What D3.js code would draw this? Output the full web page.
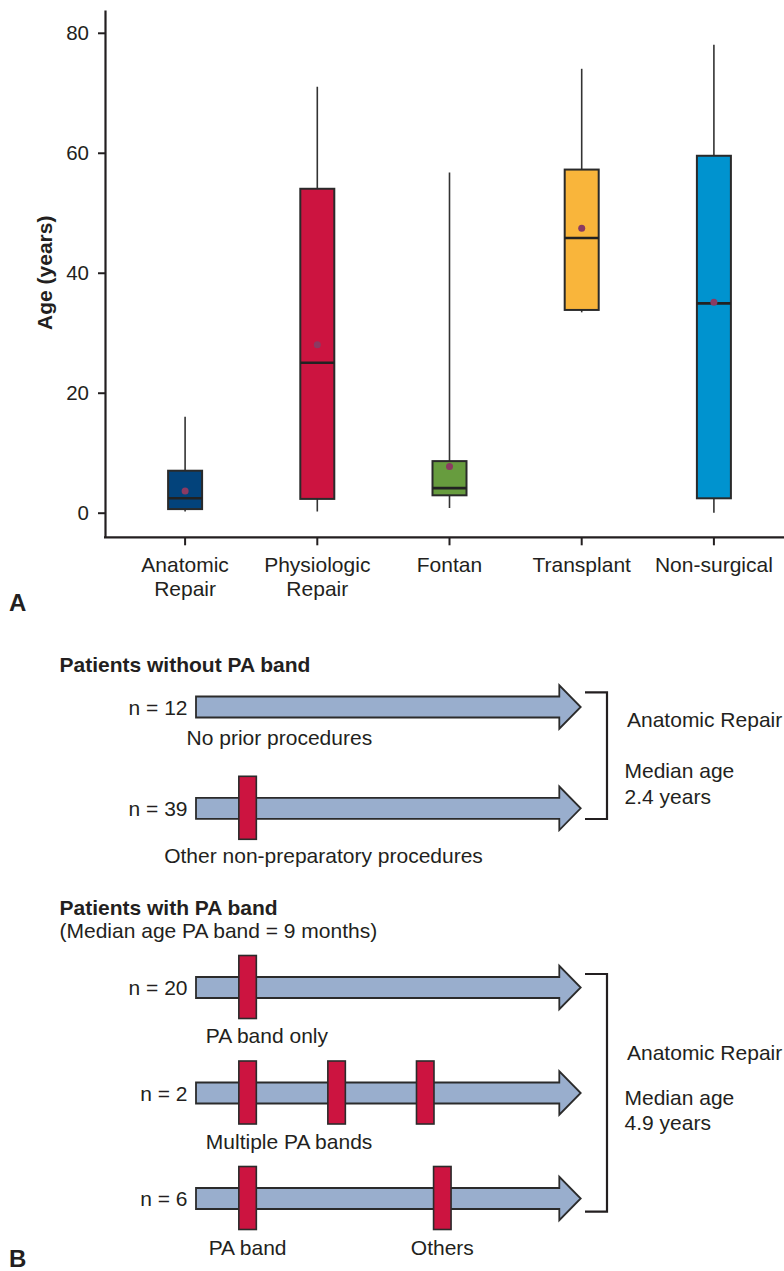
<!DOCTYPE html>
<html>
<head>
	<title>Age at repair</title>
	<script src="https://d3js.org/d3.v7.min.js"></script>
	<style type="text/css">
		body { margin:0; background:#fff; }
		svg text { font-family:"Liberation Sans", Arial, Helvetica, sans-serif; fill:#231f20; }
	</style>
</head>
<body>
	<script type="text/javascript">

		// ---- panel A data (age in years) ----
		var categories   = ["Anatomic Repair", "Physiologic Repair", "Fontan", "Transplant", "Non-surgical"];
		var catLines     = [["Anatomic", "Repair"], ["Physiologic", "Repair"], ["Fontan"], ["Transplant"], ["Non-surgical"]];
		var whiskerLow   = [0.2, 0.2, 0.8, 33.4, 0];
		var q1           = [0.6, 2.3, 2.9, 33.8, 2.4];
		var median       = [2.4, 25, 4.1, 45.8, 34.9];
		var q3           = [7.0, 54, 8.6, 57.2, 59.5];
		var whiskerHigh  = [16, 71, 56.7, 74, 78];
		var means        = [3.6, 28, 7.7, 47.4, 35.1];
		var boxColors    = ["#03437b", "#cc1440", "#679c3e", "#f9b53b", "#0093cf"];
		var yTicks       = [0, 20, 40, 60, 80];

		// ---- panel B data ----
		var groupTitles  = ["Patients without PA band", "Patients with PA band"];
		var groupNotes   = ["", "(Median age PA band = 9 months)"];
		var groupOutcome = ["Anatomic Repair", "Anatomic Repair"];
		var groupAge     = ["2.4 years", "4.9 years"];
		var rowGroup     = [0, 0, 1, 1, 1];
		var rowN         = [12, 39, 20, 2, 6];
		var rowBands     = [[], [14.2], [14.2], [14.2, 38.7, 63.1], [14.2, 67.8]];   // position on the timeline, 0-100
		var rowLabels    = [["No prior procedures"], ["Other non-preparatory procedures"], ["PA band only"], ["Multiple PA bands"], ["PA band", "Others"]];

		var W = 784, H = 1271;
		var ink = "#231f20";

		var svg = d3.select("body").append("svg")
			.attr("width", W)
			.attr("height", H);

		/* ================= panel A : box plot ================= */

		var y = d3.scaleLinear().domain([-4.1, 83.8]).range([537.3, 10]);
		var x = d3.scaleBand().domain(categories).range([119, 780]).padding(0);
		var boxW = 34;

		var data = categories.map(function(c, i){
			return {cat:c, lo:whiskerLow[i], q1:q1[i], med:median[i], q3:q3[i], hi:whiskerHigh[i], mean:means[i], color:boxColors[i], lines:catLines[i]};
		});

		// y axis
		var yAxis = svg.append("g")
			.attr("transform", "translate(105,0)")
			.call(d3.axisLeft(y).tickValues(yTicks).tickSize(7).tickPadding(9).tickSizeOuter(0));
		yAxis.select(".domain").attr("stroke", ink).attr("stroke-width", 2.2);
		yAxis.selectAll(".tick line").attr("stroke", ink).attr("stroke-width", 2);
		yAxis.selectAll(".tick text").attr("font-size", 20.5).attr("font-family", null).style("fill", ink);

		// x axis (line drawn full width, ticks from the band scale)
		var xAxis = svg.append("g")
			.attr("transform", "translate(0,537.3)")
			.call(d3.axisBottom(x).tickSize(8).tickFormat(""));
		xAxis.select(".domain").remove();
		xAxis.selectAll(".tick line").attr("stroke", ink).attr("stroke-width", 2);
		svg.append("line")
			.attr("x1", 104).attr("x2", W)
			.attr("y1", 537.3).attr("y2", 537.3)
			.attr("stroke", ink).attr("stroke-width", 2.2);

		// category labels
		svg.selectAll("text.cat")
			.data(data)
			.enter()
			.append("text")
				.attr("class", "cat")
				.attr("x", function(d){ return x(d.cat) + x.bandwidth()/2; })
				.attr("y", 571.7)
				.attr("text-anchor", "middle")
				.attr("font-size", 21)
				.selectAll("tspan")
				.data(function(d){ return d.lines; })
				.enter()
				.append("tspan")
					.attr("x", function(){ var p = d3.select(this.parentNode).datum(); return x(p.cat) + x.bandwidth()/2; })
					.attr("dy", function(d, i){ return i ? 24 : 0; })
					.text(function(d){ return d; });

		// y title
		svg.append("text")
			.attr("transform", "translate(52," + y(40) + ") rotate(-90)")
			.attr("text-anchor", "middle")
			.attr("font-size", 21)
			.attr("font-weight", "bold")
			.text("Age (years)");

		var boxes = svg.selectAll("g.box")
			.data(data)
			.enter()
			.append("g")
				.attr("class", "box")
				.attr("transform", function(d){ return "translate(" + (x(d.cat) + x.bandwidth()/2) + ",0)"; });

		// whiskers
		boxes.append("line")
			.attr("x1", 0).attr("x2", 0)
			.attr("y1", function(d){ return y(d.hi); })
			.attr("y2", function(d){ return y(d.lo); })
			.attr("stroke", "#333").attr("stroke-width", 1.6);

		// box
		boxes.append("rect")
			.attr("x", -boxW/2)
			.attr("width", boxW)
			.attr("y", function(d){ return y(d.q3); })
			.attr("height", function(d){ return y(d.q1) - y(d.q3); })
			.attr("fill", function(d){ return d.color; })
			.attr("stroke", "#2a2a2a").attr("stroke-width", 2);

		// median
		boxes.append("line")
			.attr("x1", -boxW/2).attr("x2", boxW/2)
			.attr("y1", function(d){ return y(d.med); })
			.attr("y2", function(d){ return y(d.med); })
			.attr("stroke", "#222").attr("stroke-width", 2.6);

		// mean
		boxes.append("circle")
			.attr("cx", 0)
			.attr("cy", function(d){ return y(d.mean); })
			.attr("r", 3.5)
			.attr("fill", "#8b3a62");

		svg.append("text")
			.attr("x", 9).attr("y", 611)
			.attr("font-size", 24).attr("font-weight", "bold")
			.text("A");

		/* ================= panel B : timelines ================= */

		var t = d3.scaleLinear().domain([0, 100]).range([196, 559.3]);   // body of arrow
		var tipX = 580.7, bodyH = 21, headH = 43.5;
		var bandW = 17.5, bandTop = 32, bandH = 63;

		// row position inside each group
		var rowY = [
			d3.scaleLinear().domain([0, 1]).range([707, 808.3]),
			d3.scaleLinear().domain([0, 2]).range([987.5, 1198.5])
		];
		var groupStart = [0, 2];

		// group layout: title baselines and bracket span
		var groupLayout = [
			{title:671.7, note:null, top:692.3, bottom:819, outcome:727.3, med:778.3, age:804},
			{title:915, note:937.5, top:974, bottom:1211.7, outcome:1060, med:1105, age:1130}
		];

		var rows = rowN.map(function(n, i){
			var g = rowGroup[i];
			return {n:n, group:g, cy:rowY[g](i - groupStart[g]), bands:rowBands[i], labels:rowLabels[i], idx:i};
		});

		// text layout under each row: [timeline pos, anchor, baseline offset]
		var labelLayout = [
			[[-2.6, "start", 38]],
			[[35.1, "middle", 54.4]],
			[[2.7, "start", 55.2]],
			[[2.7, "start", 55.8]],
			[[14.2, "middle", 56.5], [67.8, "middle", 56.5]]
		];

		groupTitles.forEach(function(title, g){
			var L = groupLayout[g];
			svg.append("text")
				.attr("x", 59.5).attr("y", L.title)
				.attr("font-size", 21).attr("font-weight", "bold")
				.text(title);
			if(groupNotes[g]){
				svg.append("text")
					.attr("x", 59.5).attr("y", L.note)
					.attr("font-size", 21)
					.text(groupNotes[g]);
			}
			// bracket
			svg.append("path")
				.attr("d", "M585," + L.top + "H607V" + L.bottom + "H585")
				.attr("fill", "none").attr("stroke", ink).attr("stroke-width", 2.2);
			svg.append("text").attr("x", 627).attr("y", L.outcome).attr("font-size", 21).text(groupOutcome[g]);
			svg.append("text").attr("x", 624.5).attr("y", L.med).attr("font-size", 21).text("Median age");
			svg.append("text").attr("x", 624.5).attr("y", L.age).attr("font-size", 21).text(groupAge[g]);
		});

		var rowG = svg.selectAll("g.row")
			.data(rows)
			.enter()
			.append("g")
				.attr("class", "row");

		// arrow
		rowG.append("path")
			.attr("d", function(d){
				var x0 = t(0), xh = t(100), c = d.cy, b = bodyH/2, h = headH/2;
				return "M" + x0 + "," + (c - b) + "H" + xh + "V" + (c - h) + "L" + tipX + "," + c +
					"L" + xh + "," + (c + h) + "V" + (c + b) + "H" + x0 + "Z";
			})
			.attr("fill", "#99aecd")
			.attr("stroke", "#2b2b2b").attr("stroke-width", 1.8)
			.attr("stroke-linejoin", "miter");

		// procedures
		rowG.selectAll("rect.band")
			.data(function(d){ return d.bands.map(function(p){ return {p:p, cy:d.cy}; }); })
			.enter()
			.append("rect")
				.attr("class", "band")
				.attr("x", function(d){ return t(d.p) - bandW/2; })
				.attr("y", function(d){ return d.cy - bandTop; })
				.attr("width", bandW)
				.attr("height", bandH)
				.attr("fill", "#cc1440")
				.attr("stroke", "#2b2b2b").attr("stroke-width", 1.6);

		// n labels
		rowG.append("text")
			.attr("x", 187.5)
			.attr("y", function(d){ return d.cy + 7.5; })
			.attr("text-anchor", "end")
			.attr("font-size", 21)
			.text(function(d){ return "n = " + d.n; });

		// row captions
		rowG.each(function(d){
			var g = d3.select(this);
			d.labels.forEach(function(lab, k){
				var L = labelLayout[d.idx][k];
				g.append("text")
					.attr("x", t(L[0]))
					.attr("y", d.cy + L[2])
					.attr("text-anchor", L[1])
					.attr("font-size", 21)
					.text(lab);
			});
		});

		svg.append("text")
			.attr("x", 9).attr("y", 1267)
			.attr("font-size", 24).attr("font-weight", "bold")
			.text("B");

	</script>
</body>
</html>
